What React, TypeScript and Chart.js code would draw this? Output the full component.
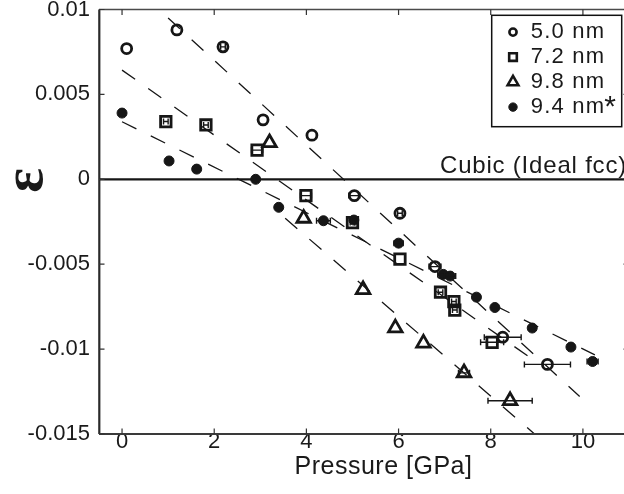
import React, { useEffect, useRef } from "react";
import { Chart, registerables } from "chart.js";
import { drawPoint } from "chart.js/helpers";

Chart.register(...registerables);

const FONT = "'Liberation Sans', Arial, Helvetica, sans-serif";

// ---- axes ----
const xRange = [-0.5, 11];
const yRange = [-0.015, 0.01];
const xTicks = [0, 2, 4, 6, 8, 10];
const xTickLabels = ["0", "2", "4", "6", "8", "10"];
const yTicks = [-0.015, -0.01, -0.005, 0, 0.005, 0.01];
const yTickLabels = ["-0.015", "-0.01", "-0.005", "0", "0.005", "0.01"];
const xTitle = "Pressure [GPa]";
const yTitle = "ε";
const refLabel = "Cubic (Ideal fcc)";

const seriesLabels = ["5.0 nm", "7.2 nm", "9.8 nm", "9.4 nm"];

// ---- 5.0 nm (open circles) ----
const p50 = [0.1, 1.19, 2.19, 3.06, 4.12, 5.04, 6.03, 6.79, 8.26, 9.23];
const e50 = [0.0077, 0.0088, 0.0078, 0.0035, 0.0026, -0.00096, -0.002, -0.00514, -0.0093, -0.0109];
const err50 = [0, 0, 0.05, 0, 0, 0.12, 0.05, 0.13, 0.4, 0.5];

// ---- 7.2 nm (open squares) ----
const p72 = [0.95, 1.82, 2.93, 3.99, 5.0, 6.03, 6.91, 7.2, 7.22, 8.03];
const e72 = [0.0034, 0.0032, 0.00172, -0.00096, -0.00255, -0.0047, -0.00665, -0.0072, -0.0077, -0.0096];
const err72 = [0.05, 0.05, 0.12, 0.12, 0.05, 0, 0.05, 0.05, 0.05, 0.25];

// ---- 9.8 nm (open triangles) ----
const p98 = [3.2, 3.94, 5.23, 5.93, 6.54, 7.42, 8.42];
const e98 = [0.00215, -0.0023, -0.0065, -0.00875, -0.00965, -0.0114, -0.01304];
const err98 = [0, 0, 0, 0, 0, 0.12, 0.48];

// ---- 9.4 nm* (filled) ----
const p94 = [0.0, 1.02, 1.62, 2.9, 3.4, 4.37, 5.03, 6.0, 6.97, 7.12, 7.69, 8.09, 8.9, 9.74, 10.21];
const e94 = [0.0039, 0.00108, 0.0006, 0.0, -0.00165, -0.00244, -0.0024, -0.00376, -0.0056, -0.0057, -0.00694, -0.00755, -0.00876, -0.00988, -0.01073];
const err94 = [0, 0, 0, 0, 0, 0.15, 0.05, 0.1, 0.12, 0.12, 0, 0, 0, 0, 0.12];

// ---- dashed linear fits (end points) ----
const fit50X = [1.0, 9.93];
const fit50Y = [0.0095, -0.01279];
const fit72X = [0.0, 8.8];
const fit72Y = [0.00643, -0.0104];
const fit98X = [3.54, 8.95];
const fit98Y = [-0.00229, -0.015];
const fit94X = [0.0, 10.26];
const fit94Y = [0.00339, -0.01034];

const INK = "#161616";

const mk = (xs: number[], ys: number[]) => xs.map((x, i) => ({ x, y: ys[i] }));

const markerStyles = [
  { pointStyle: "circle", radius: 5, borderWidth: 2.8, fill: "rgba(0,0,0,0)", legendRadius: 3.6, legendBorder: 2.6 },
  { pointStyle: "rect", radius: 7.4, borderWidth: 2.8, fill: "rgba(0,0,0,0)", legendRadius: 5.4, legendBorder: 2.6 },
  { pointStyle: "triangle", radius: 7.8, borderWidth: 2.8, fill: "rgba(0,0,0,0)", legendRadius: 6.2, legendBorder: 2.6 },
  { pointStyle: "circle", radius: 5, borderWidth: 1, fill: INK, legendRadius: 4.2, legendBorder: 1 },
];

const decorPlugin = {
  id: "decor",
  beforeDatasetsDraw(chart: any) {
    const { ctx, chartArea: a, scales } = chart;
    const y0 = scales.y.getPixelForValue(0);
    ctx.save();
    ctx.strokeStyle = INK;
    ctx.lineWidth = 2.2;
    ctx.beginPath();
    ctx.moveTo(a.left, y0);
    ctx.lineTo(a.right, y0);
    ctx.stroke();
    ctx.restore();
  },
  afterDatasetsDraw(chart: any) {
    const { ctx, scales } = chart;
    const xs = scales.x;
    const ys = scales.y;
    ctx.save();
    ctx.strokeStyle = INK;
    ctx.lineWidth = 1.4;
    chart.data.datasets.forEach((ds: any) => {
      if (!ds.errX) return;
      ds.data.forEach((pt: any, i: number) => {
        const e = ds.errX[i];
        if (!e) return;
        const x1 = xs.getPixelForValue(pt.x - e);
        const x2 = xs.getPixelForValue(pt.x + e);
        const yy = ys.getPixelForValue(pt.y);
        ctx.beginPath();
        ctx.moveTo(x1, yy);
        ctx.lineTo(x2, yy);
        ctx.moveTo(x1, yy - 3);
        ctx.lineTo(x1, yy + 3);
        ctx.moveTo(x2, yy - 3);
        ctx.lineTo(x2, yy + 3);
        ctx.stroke();
      });
    });
    ctx.restore();
  },
  afterDraw(chart: any) {
    const { ctx, chartArea: a, scales } = chart;
    const xs = scales.x;
    const ys = scales.y;
    ctx.save();
    // frame
    ctx.strokeStyle = "#2a2a2a";
    ctx.lineWidth = 2.2;
    ctx.beginPath();
    ctx.moveTo(a.left + 0.3, a.top);
    ctx.lineTo(a.left + 0.3, a.bottom);
    ctx.stroke();
    ctx.lineWidth = 2;
    ctx.strokeStyle = "#3a3a3a";
    ctx.beginPath();
    ctx.moveTo(a.left, a.bottom);
    ctx.lineTo(a.right, a.bottom);
    ctx.stroke();
    ctx.lineWidth = 1.5;
    ctx.strokeStyle = "#4a4a4a";
    ctx.beginPath();
    ctx.moveTo(a.left, a.top);
    ctx.lineTo(a.right, a.top);
    ctx.moveTo(a.right, a.top);
    ctx.lineTo(a.right, a.bottom);
    ctx.stroke();
    // inward tick marks
    ctx.lineWidth = 1.2;
    ctx.strokeStyle = "#333";
    ctx.beginPath();
    xs.ticks.forEach((t: any) => {
      const px = xs.getPixelForValue(t.value);
      ctx.moveTo(px, a.bottom);
      ctx.lineTo(px, a.bottom - 5.5);
      ctx.moveTo(px, a.top);
      ctx.lineTo(px, a.top + 5.5);
    });
    ys.ticks.forEach((t: any) => {
      const py = ys.getPixelForValue(t.value);
      ctx.moveTo(a.left, py);
      ctx.lineTo(a.left + 5.5, py);
      ctx.moveTo(a.right, py);
      ctx.lineTo(a.right - 5.5, py);
    });
    ctx.stroke();

    // axis titles
    ctx.fillStyle = "#1a1a1a";
    ctx.font = `25px ${FONT}`;
    (ctx as any).letterSpacing = "0.5px";
    ctx.textAlign = "center";
    ctx.textBaseline = "alphabetic";
    ctx.fillText(xTitle, a.left + 284.5, a.bottom + 40);
    (ctx as any).letterSpacing = "0px";

    ctx.save();
    ctx.translate(27, ys.getPixelForValue(0) + 1);
    ctx.rotate(-Math.PI / 2);
    ctx.font = `bold 58px 'Liberation Serif', 'DejaVu Serif', serif`;
    ctx.textAlign = "center";
    ctx.textBaseline = "middle";
    ctx.fillText(yTitle, 0, 0);
    ctx.restore();

    // reference line label
    ctx.font = `24px ${FONT}`;
    (ctx as any).letterSpacing = "0.8px";
    ctx.textAlign = "left";
    ctx.textBaseline = "alphabetic";
    ctx.fillText(refLabel, a.left + 341, ys.getPixelForValue(0) - 6);
    (ctx as any).letterSpacing = "0px";

    // legend
    const bx = a.right - 137.3;
    const by = a.top + 5.8;
    const bw = 130;
    const bh = 111.4;
    ctx.fillStyle = "#ffffff";
    ctx.fillRect(bx, by, bw, bh);
    ctx.strokeStyle = "#111";
    ctx.lineWidth = 1.5;
    ctx.strokeRect(bx, by, bw, bh);
    ctx.font = `22px ${FONT}`;
    (ctx as any).letterSpacing = "1.2px";
    ctx.textAlign = "left";
    ctx.textBaseline = "alphabetic";
    let lastEnd = 0;
    seriesLabels.forEach((lab, i) => {
      const m = markerStyles[i];
      const base = by + 23 + 25 * i;
      ctx.save();
      ctx.strokeStyle = INK;
      ctx.fillStyle = m.fill;
      ctx.lineWidth = m.legendBorder;
      drawPoint(ctx, { pointStyle: m.pointStyle as any, radius: m.legendRadius, rotation: 0, borderWidth: m.legendBorder }, bx + 21.3, base - 6.2);
      ctx.restore();
      ctx.fillStyle = "#1a1a1a";
      ctx.fillText(lab, bx + 39, base);
      lastEnd = bx + 39 + ctx.measureText(lab).width;
    });
    (ctx as any).letterSpacing = "0px";
    ctx.font = `30px ${FONT}`;
    ctx.fillText("*", lastEnd - 1, by + 101);
    ctx.restore();
  },
};

export default function App() {
  const ref = useRef<HTMLCanvasElement | null>(null);
  useEffect(() => {
    document.body.style.margin = "0";
    if (!ref.current) return;
    const pointDs = (label: string, xs: number[], ys: number[], errs: number[], i: number) => {
      const m = markerStyles[i];
      return {
        label,
        data: mk(xs, ys),
        errX: errs,
        showLine: false,
        pointStyle: m.pointStyle,
        pointRadius: m.radius,
        pointHoverRadius: m.radius,
        borderWidth: m.borderWidth,
        pointBorderWidth: m.borderWidth,
        pointHoverBorderWidth: m.borderWidth,
        borderColor: INK,
        pointBorderColor: INK,
        backgroundColor: m.fill,
        pointBackgroundColor: m.fill,
        order: 1,
      };
    };
    const fitDs = (xs: number[], ys: number[]) => ({
      label: "fit",
      data: mk(xs, ys),
      showLine: true,
      borderColor: INK,
      borderWidth: 1.3,
      borderDash: [16, 16],
      pointRadius: 0,
      pointHoverRadius: 0,
      fill: false,
      order: 2,
    });
    const chart = new Chart(ref.current, {
      type: "scatter",
      data: {
        datasets: [
          fitDs(fit50X, fit50Y),
          fitDs(fit72X, fit72Y),
          fitDs(fit98X, fit98Y),
          fitDs(fit94X, fit94Y),
          pointDs(seriesLabels[0], p50, e50, err50, 0),
          pointDs(seriesLabels[1], p72, e72, err72, 1),
          pointDs(seriesLabels[2], p98, e98, err98, 2),
          pointDs(seriesLabels[3], p94, e94, err94, 3),
        ] as any,
      },
      options: {
        animation: false,
        responsive: false,
        devicePixelRatio: 1,
        layout: { autoPadding: false, padding: { left: 0, top: 9.5, right: 1, bottom: 0 } },
        plugins: { legend: { display: false }, tooltip: { enabled: false }, title: { display: false } },
        scales: {
          x: {
            type: "linear",
            min: xRange[0],
            max: xRange[1],
            grid: { display: false, drawTicks: false },
            border: { display: false },
            afterBuildTicks: (s: any) => {
              s.ticks = xTicks.map((v) => ({ value: v }));
            },
            afterFit: (s: any) => {
              s.height = 60;
              s.paddingLeft = 0;
              s.paddingRight = 0;
            },
            ticks: {
              autoSkip: false,
              maxRotation: 0,
              padding: -5,
              color: "#1a1a1a",
              font: { size: 22, family: FONT },
              callback: (v: any) => {
                const i = xTicks.findIndex((t) => Math.abs(t - v) < 1e-9);
                return i >= 0 ? xTickLabels[i] : "";
              },
            },
          },
          y: {
            type: "linear",
            min: yRange[0],
            max: yRange[1],
            grid: { display: false, drawTicks: false },
            border: { display: false },
            afterBuildTicks: (s: any) => {
              s.ticks = yTicks.map((v) => ({ value: v }));
            },
            afterFit: (s: any) => {
              s.width = 99;
              s.paddingTop = 0;
              s.paddingBottom = 0;
            },
            ticks: {
              autoSkip: false,
              padding: 9,
              color: "#1a1a1a",
              font: { size: 22, family: FONT },
              callback: (v: any) => {
                const i = yTicks.findIndex((t) => Math.abs(t - v) < 1e-9);
                return i >= 0 ? yTickLabels[i] : "";
              },
            },
          },
        },
      },
      plugins: [decorPlugin],
    });
    return () => chart.destroy();
  }, []);
  return (
    <div style={{ position: "fixed", left: 0, top: 0, width: 624, height: 494, overflow: "hidden", background: "#fff" }}>
      <canvas ref={ref} width={630} height={494} style={{ width: 630, height: 494, display: "block" }} />
    </div>
  );
}
